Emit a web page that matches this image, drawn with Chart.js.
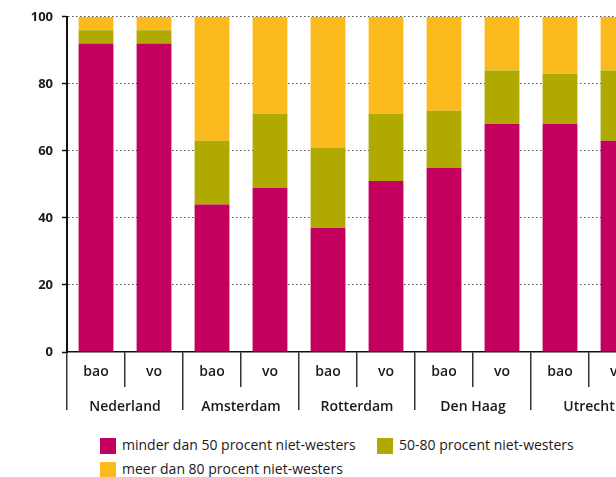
<!DOCTYPE html>
<html>
<head>
<meta charset="utf-8">
<script src="https://cdn.jsdelivr.net/npm/chart.js@4.4.1/dist/chart.umd.min.js"></script>
<style>
  html, body { margin: 0; padding: 0; background: #fff; overflow: hidden; width: 616px; height: 477px; }
  #wrap { position: relative; width: 616px; height: 477px; overflow: hidden; }
  #c { position: absolute; left: 0; top: 0; }
  .lg { position: absolute; font-family: "Open Sans", sans-serif; font-size: 14px; color: #1a1a1a; white-space: nowrap; line-height: 16px; }
  .lg span.box { position: absolute; left: 0; top: 0; width: 16px; height: 16px; }
  .lg span.t { position: absolute; left: 22px; top: -1px; }
</style>
</head>
<body>
<div id="wrap">
  <canvas id="c" width="660" height="430"></canvas>
  <div class="lg" id="lg0" style="left:100px; top:438px;"><span class="box"></span><span class="t"></span></div>
  <div class="lg" id="lg1" style="left:377px; top:438px;"><span class="box"></span><span class="t"></span></div>
  <div class="lg" id="lg2" style="left:100px; top:462px;"><span class="box"></span><span class="t"></span></div>
</div>
<script>
const categories = ["bao", "vo", "bao", "vo", "bao", "vo", "bao", "vo", "bao", "vo"];
const groups = ["Nederland", "Amsterdam", "Rotterdam", "Den Haag", "Utrecht"];
const seriesNames = ["minder dan 50 procent niet-westers", "50-80 procent niet-westers", "meer dan 80 procent niet-westers"];
const minder50 = [92, 92, 44, 49, 37, 51, 55, 68, 68, 63];
const tussen50_80 = [4, 4, 19, 22, 24, 20, 17, 16, 15, 21];
const meer80 = [4, 4, 37, 29, 39, 29, 28, 16, 17, 16];
const yTicks = [0, 20, 40, 60, 80, 100];

const colors = ["#C4005F", "#AFA900", "#FBBA1E"];
const seriesData = [minder50, tussen50_80, meer80];

seriesNames.forEach((n, i) => {
  const el = document.getElementById("lg" + i);
  el.querySelector(".box").style.background = colors[i];
  el.querySelector(".t").textContent = n;
});

const fontFam = '"Open Sans", sans-serif';

new Chart(document.getElementById("c"), {
  type: "bar",
  data: {
    labels: categories,
    datasets: seriesNames.map((n, i) => ({
      label: n,
      data: seriesData[i],
      backgroundColor: colors[i],
      borderWidth: 0,
      categoryPercentage: 1,
      barPercentage: 0.6
    }))
  },
  options: {
    responsive: false,
    animation: false,
    devicePixelRatio: 1,
    layout: { padding: { top: 14, right: 13, bottom: 0, left: 0 } },
    plugins: { legend: { display: false }, tooltip: { enabled: false } },
    scales: {
      x: {
        type: "category",
        stacked: true,
        offset: true,
        position: "bottom",
        weight: 0,
        grid: {
          display: true,
          offset: true,
          drawOnChartArea: false,
          drawTicks: true,
          tickLength: 35,
          color: "#333",
          lineWidth: 1.5
        },
        border: { display: true, color: "#111", width: 1.5 },
        ticks: {
          padding: -23,
          color: "#1a1a1a",
          font: { family: fontFam, size: 14, weight: "600" },
          maxRotation: 0,
          autoSkip: false
        },
        afterFit: (s) => { s.height = 35; }
      },
      x2: {
        type: "category",
        labels: groups,
        offset: true,
        position: "bottom",
        weight: 1,
        grid: {
          display: true,
          offset: true,
          drawOnChartArea: false,
          drawTicks: true,
          tickLength: 23,
          color: "#333",
          lineWidth: 1.5
        },
        border: { display: false },
        ticks: {
          padding: -11,
          color: "#1a1a1a",
          font: { family: fontFam, size: 14, weight: "600" },
          maxRotation: 0,
          autoSkip: false
        },
        afterFit: (s) => { s.height = 43; }
      },
      y: {
        stacked: true,
        min: 0,
        max: 100,
        afterBuildTicks: (s) => { s.ticks = yTicks.map(v => ({ value: v })); },
        grid: {
          color: (ctx) => ctx.tick && ctx.tick.value === 0 ? "rgba(0,0,0,0)" : "#555",
          lineWidth: 1,
          drawTicks: true,
          tickLength: 5,
          tickColor: "#111",
          tickWidth: 1.5,
          tickBorderDash: []
        },
        border: { display: true, color: "#111", width: 2, dash: [1.5, 2.5] },
        ticks: {
          padding: 9,
          color: "#1a1a1a",
          font: { family: fontFam, size: 13, weight: "700" }
        },
        afterFit: (s) => { s.width = 67; }
      }
    }
  }
});
</script>
</body>
</html>
